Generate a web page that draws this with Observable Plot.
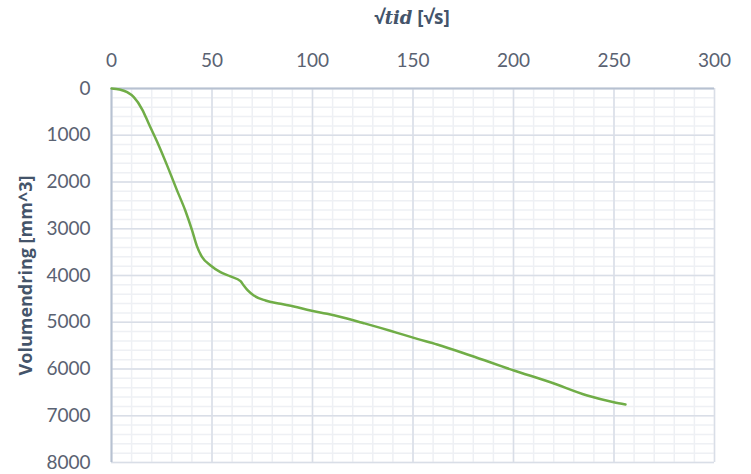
<!DOCTYPE html>
<html>
<head>
<meta charset="utf-8">
<script src="https://cdn.jsdelivr.net/npm/d3@7"></script>
<script src="https://cdn.jsdelivr.net/npm/@observablehq/plot@0.6"></script>
<style>
  html, body { margin: 0; padding: 0; background: #fff; }
  #wrap { width: 751px; height: 474px; position: relative; overflow: hidden; }
  #title { height: 32px; line-height: 34px; text-align: center; padding-left: 73px;
           font-family: "Open Sans", Lato, sans-serif; font-weight: bold; font-size: 19px; color: #44546a; }
  #title .m { font-family: "DejaVu Serif", serif; font-style: italic; font-weight: bold; font-size: 18px; }
</style>
</head>
<body>
<div id="wrap">
  <div id="title"><span>√</span><span class="m">tid</span> [√s]</div>
  <div id="chart"></div>
</div>
<script>
// √time [√s]
const sqrtTime = [0, 4, 7.8, 11.1, 15.3, 18.6, 22.7, 27.7, 32.7, 36.8, 40.1, 42.4, 45.1, 49.3, 54.2, 59.2, 64.2, 65.8, 67.8, 70.8, 76.6, 84.1, 90.7, 99, 107.3, 115.6, 125.5, 133.8, 142.1, 152.1, 162, 178.6, 200.2, 218.4, 236.7, 249.9, 255.7];
// volume change [mm^3]
const volumeChange = [0, 20, 79, 186, 450, 760, 1140, 1650, 2190, 2620, 3037, 3360, 3609, 3786, 3929, 4021, 4122, 4214, 4320, 4428, 4535, 4606, 4663, 4749, 4820, 4905, 5020, 5120, 5227, 5355, 5476, 5711, 6032, 6283, 6567, 6710, 6759];
const xTicks = [0, 50, 100, 150, 200, 250, 300];
const yTicks = [0, 1000, 2000, 3000, 4000, 5000, 6000, 7000, 8000];
const xMinor = d3.range(0, 301, 10);
const yMinor = d3.range(0, 8001, 200);

const data = sqrtTime.map((x, i) => ({x, y: volumeChange[i]}));

const chart = Plot.plot({
  width: 751,
  height: 442,
  marginTop: 56,
  marginLeft: 111,
  marginRight: 37,
  marginBottom: 12,
  style: { fontFamily: "Lato, 'Open Sans', sans-serif", fontSize: "19px", color: "#5a6272", background: "#fff", overflow: "visible" },
  x: { domain: [0, 300], label: null },
  y: { domain: [0, 8000], reverse: true, label: null },
  marks: [
    Plot.ruleX(xMinor, { stroke: "#eef0f4", strokeWidth: 1.5 }),
    Plot.ruleY(yMinor, { stroke: "#eef0f4", strokeWidth: 1.5 }),
    Plot.ruleX(xTicks, { stroke: "#d9dee7", strokeWidth: 1.5 }),
    Plot.ruleY(yTicks, { stroke: "#d9dee7", strokeWidth: 1.5 }),
    Plot.ruleX([0], { stroke: "#b7c1d1", strokeWidth: 2 }),
    Plot.ruleY([0], { stroke: "#b7c1d1", strokeWidth: 2 }),
    Plot.axisX({ anchor: "top", ticks: xTicks, tickSize: 0, tickPadding: 22, label: null, tickFormat: d => String(d), fill: "#5a6272" }),
    Plot.axisY({ anchor: "left", ticks: yTicks, tickSize: 0, tickPadding: 21, label: null, tickFormat: d => String(d), fill: "#5a6272" }),
    Plot.line(data, { x: "x", y: "y", stroke: "#70ad47", strokeWidth: 2.5, curve: "monotone-x" }),
    Plot.text(["Volumendring [mm^3]"], { frameAnchor: "left", dx: -85, rotate: -90, textAnchor: "middle", fontWeight: "bold", fontSize: 18, fill: "#44546a", fontFamily: "'Open Sans', Lato, sans-serif" })
  ]
});
document.getElementById("chart").appendChild(chart);
</script>
</body>
</html>
